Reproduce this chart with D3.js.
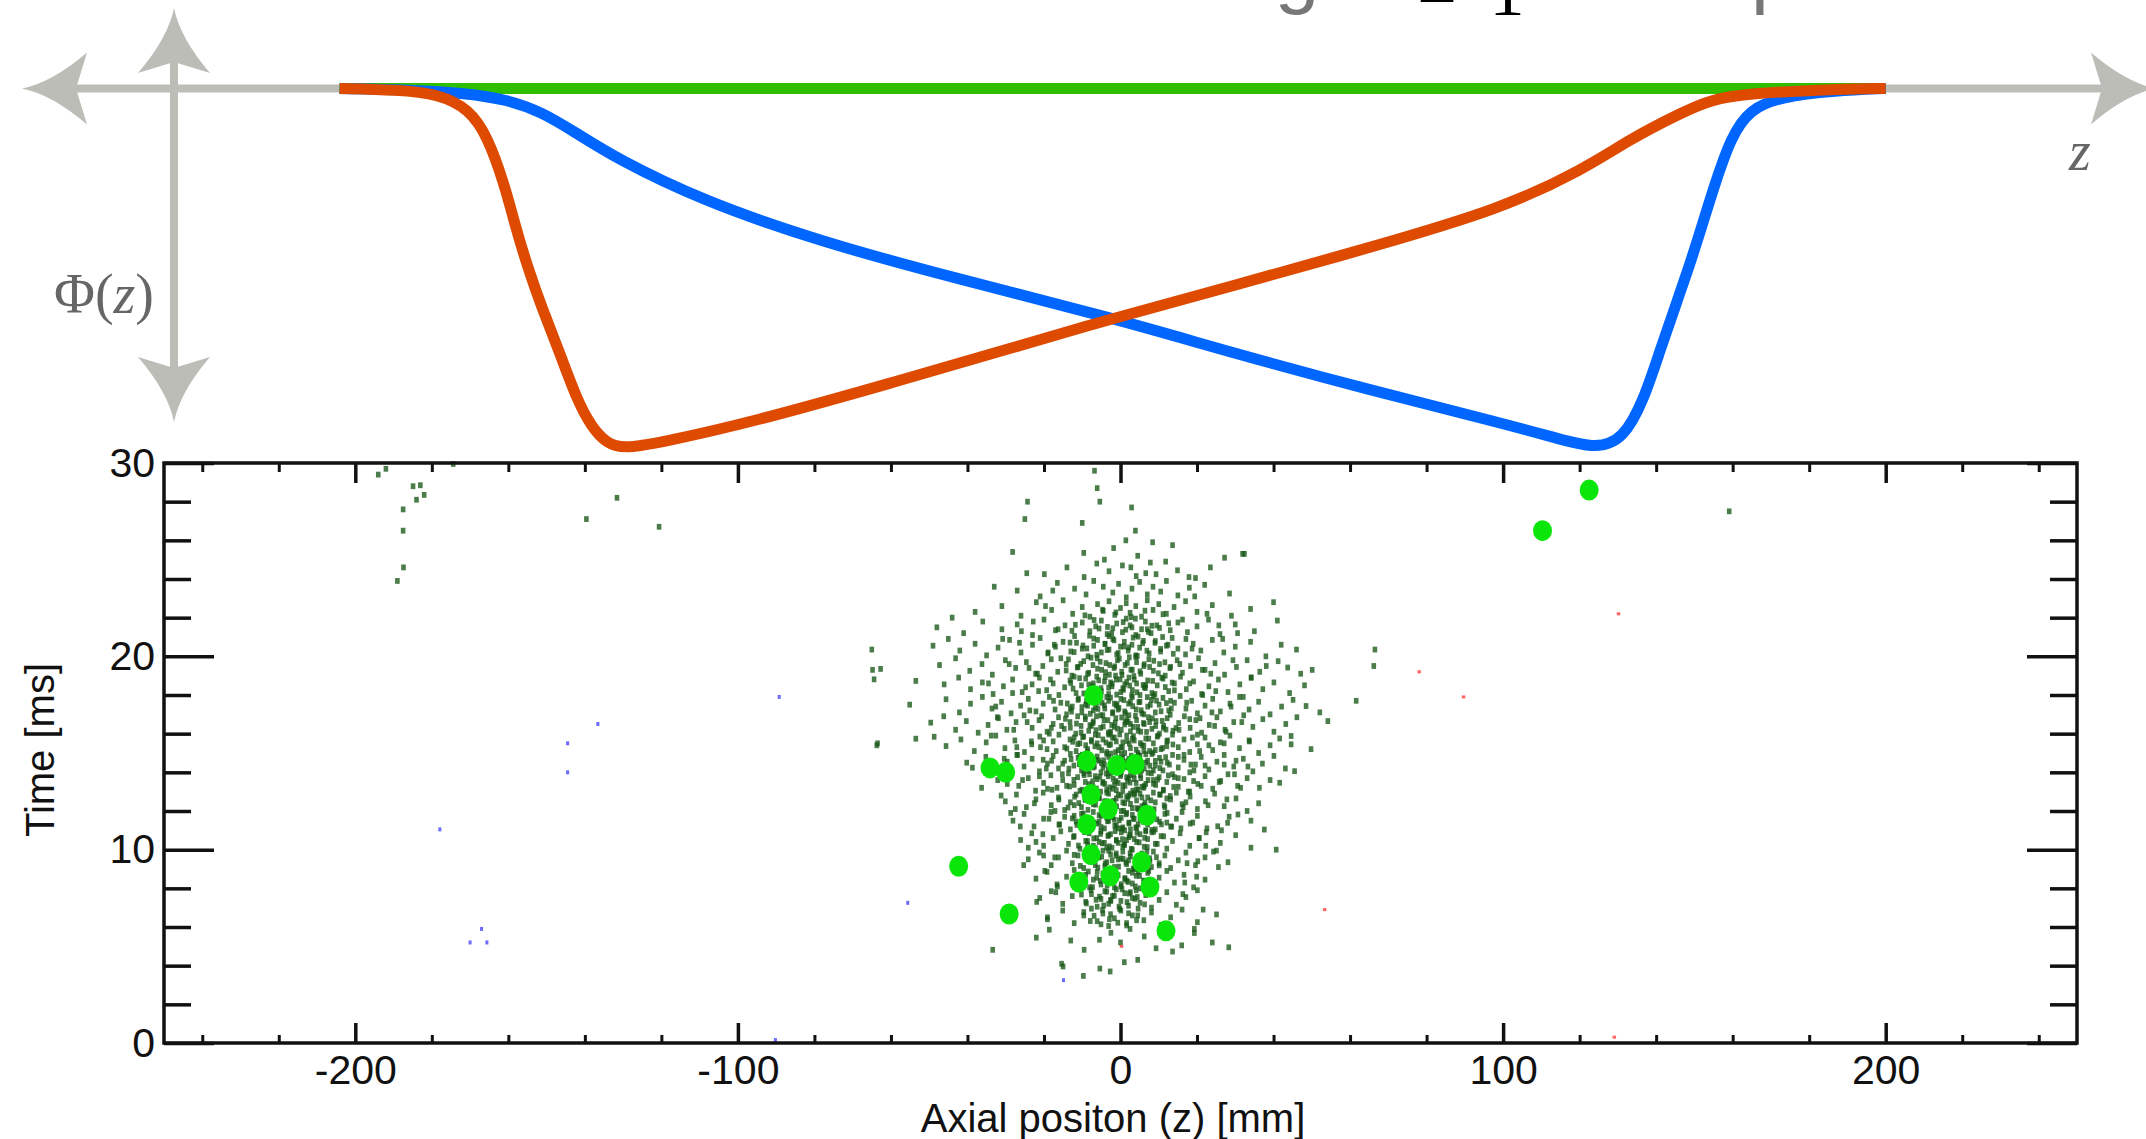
<!DOCTYPE html>
<html><head><meta charset="utf-8">
<script src="https://cdn.jsdelivr.net/npm/d3@7"></script>
<style>body{margin:0;background:#fff;overflow:hidden}svg{display:block}</style>
</head><body>
<script>
// ---------- DATA ----------
// Potential curves Phi(z) (normalised, 0 = axis, -1 = deepest)
const greenZ   = [-204.1, 200];
const greenPhi = [0, 0];
const redZ   = [-204.1,-189.0,-178.3,-170.2,-165.4,-160.9,-158.2,-155.0,-151.1,-146.8,-142.1,-138.2,-134.3,-130.0,-121.0,-96.0,-60.2,-24.3,-1.1,29.4,65.2,99.5,121.0,133.2,145.7,152.9,160.0,174.7,186.9,200];
const redPhi = [0,-0.004,-0.015,-0.058,-0.135,-0.273,-0.385,-0.5,-0.619,-0.735,-0.873,-0.95,-0.995,-1.01,-0.995,-0.935,-0.827,-0.715,-0.642,-0.554,-0.446,-0.338,-0.227,-0.142,-0.073,-0.038,-0.019,-0.008,-0.002,0];
const blueZ   = [-204.1,-185.5,-171.1,-160.4,-151.4,-142.5,-131.8,-109.9,-78.1,-42.2,-1.1,29.4,65.2,99.5,115.3,124.2,131.4,136.8,141.0,144.9,148.6,152.0,155.2,159.6,164.5,172.6,186.9,200];
const bluePhi = [0,-0.004,-0.013,-0.031,-0.065,-0.123,-0.196,-0.312,-0.431,-0.535,-0.646,-0.742,-0.846,-0.938,-0.985,-1.01,-0.985,-0.873,-0.735,-0.615,-0.5,-0.385,-0.273,-0.135,-0.058,-0.023,-0.006,0];

// Scatter: [z (mm), time (ms)]
const bigHits = [[-7.0,17.98],[-34.1,14.23],[-30.0,14.0],[-8.8,14.58],[-1.0,14.35],[3.8,14.4],[-7.7,12.85],[-3.2,12.1],[6.9,11.78],[-8.8,11.3],[-7.7,9.74],[5.5,9.36],[-10.9,8.33],[-2.7,8.65],[7.7,8.07],[-42.3,9.14],[-29.1,6.67],[11.9,5.8],[110.3,26.5],[122.5,28.6]];
const blueHits = [[-89.2,17.9],[-136.6,16.5],[-144.5,15.5],[-144.5,14.0],[-177.9,11.05],[-55.6,7.25],[-167,5.9],[-170,5.2],[-165.6,5.2],[-14.9,3.25],[-90.2,0.15]];
const redHits = [[130.1,22.2],[78,19.2],[89.6,17.9],[53.3,6.9],[0.2,5.0],[129,0.3]];
const strayHits = [[-194,29.4],[-192,29.7],[-184.9,28.8],[-183,28.85],[-182,28.35],[-184,28.1],[-187.5,27.6],[-187.5,26.5],[-174.4,29.95],[-187.4,24.6],[-189,23.9],[-139.6,27.1],[-131.6,28.2],[-120.6,26.7],[159.1,27.5],[-6.8,29.6],[-6.1,28.7],[-5.4,28.0],[2.9,27.7],[3.9,26.5],[-24.3,28.0],[-25,27.1],[-10,26.9],[31.9,25.3]];
const clusterHits = [
[-28.2,25.4],[-4.2,25.0],[4.5,25.2],[13.6,25.75],[27.2,25.1],[32.4,25.3],[-1.8,25.6],[1.4,26.0],[-9.6,25.35],[8.4,25.9],
[-19.9,24.25],[-14.0,24.6],[-9.5,24.1],[-6.2,24.8],[-3.0,24.4],[0.5,24.7],[2.7,24.6],[4.1,24.15],[6.6,24.3],[9.3,24.25],[11.8,24.9],[14.9,24.45],[19.6,24.05],[23.5,24.6],[-24.5,24.3],[7.8,24.85],
[-27,23.4],[-21,23.1],[-16.5,23.8],[-12,23.5],[-9,23.2],[-7,23.9],[-4.5,23.6],[-2,23.3],[-0.5,23.75],[1.5,23.05],[3,23.5],[5,23.85],[7,23.2],[8.5,23.6],[10.5,23.35],[12,23.9],[15,23.15],[18,23.55],[22,23.7],[28.5,23.25],[-33,23.6],
[-38,22.3],[-31,22.6],[-26,22.1],[-22,22.8],[-18,22.4],[-15,22.9],[-12.5,22.2],[-10,22.55],[-8,22.05],[-6,22.7],[-4.5,22.35],[-3,22.85],[-1.5,22.15],[0,22.5],[1.5,22.75],[2.5,22.25],[4,22.6],[5.5,22.05],[7,22.9],[8.5,22.4],[10,22.7],[12,22.2],[14,22.55],[17,22.85],[20,22.3],[24,22.65],[29,22.1],[34,22.45],[-44,22.0],[40,22.8],
[-48,21.5],[-41,21.2],[-36,21.8],[-31,21.4],[-27,21.65],[-23,21.1],[-20,21.9],[-17,21.35],[-14.5,21.6],[-12,21.05],[-10,21.75],[-8,21.3],[-6.5,21.55],[-5,21.85],[-3.5,21.15],[-2,21.45],[-1,21.7],[0.5,21.25],[1.5,21.95],[3,21.5],[4,21.1],[5.5,21.4],[6.5,21.8],[8,21.2],[9.5,21.6],[11,21.0],[13,21.35],[15,21.75],[17.5,21.25],[20,21.55],[23,21.9],[26,21.15],[30,21.65],[35,21.3],[41,21.85],[-3,21.05],[2.5,21.6],[7,21.4],
[-65,20.35],[-49,20.55],[-45,20.9],[-42,20.3],[-38,20.65],[-35,20.05],[-32,20.45],[-29,20.85],[-26,20.2],[-23,20.6],[-21,20.95],[-19,20.15],[-17,20.5],[-15,20.75],[-13,20.25],[-11.5,20.7],[-10,20.4],[-8.5,20.0],[-7,20.55],[-6,20.85],[-5,20.2],[-4,20.65],[-3,20.35],[-2,20.9],[-1,20.1],[0,20.5],[1,20.75],[2,20.3],[3,20.6],[4,20.05],[5,20.45],[6,20.8],[7.5,20.15],[9,20.7],[10.5,20.25],[12,20.55],[13.5,20.95],[15,20.4],[17,20.1],[19,20.65],[21,20.3],[24,20.85],[27,20.2],[30,20.5],[34,20.75],[38,20.0],[42,20.6],[46,20.35],[66.5,20.35],
[-64.8,19.3],[-62.7,19.35],[-47.3,19.55],[-43.1,19.9],[-39.4,19.25],[-36.2,19.6],[-33.5,19.05],[-30.1,19.8],[-27.4,19.4],[-24.6,19.7],[-22.2,19.1],[-20.3,19.5],[-18.1,19.85],[-16.4,19.2],[-14.2,19.6],[-12.7,19.0],[-11.1,19.45],[-9.6,19.75],[-8.3,19.15],[-7.2,19.55],[-6.1,19.9],[-4.9,19.3],[-3.8,19.65],[-2.9,19.05],[-1.7,19.4],[-0.8,19.8],[0.3,19.2],[1.2,19.55],[2.3,19.95],[3.1,19.3],[4.2,19.7],[5.3,19.1],[6.1,19.5],[7.4,19.85],[8.6,19.25],[10.2,19.6],[11.7,19.0],[13.1,19.45],[14.8,19.8],[16.2,19.15],[18.3,19.5],[20.4,19.9],[22.1,19.3],[24.7,19.65],[27.2,19.05],[30.3,19.45],[33.1,19.8],[36.4,19.2],[38.1,19.5],[41.2,19.75],[43.7,19.42],[47.1,19.1],[50.1,19.3],[66.2,19.5],[-1.3,19.0],
[-64.4,18.81],[-53.5,18.73],[-46.1,18.55],[-42.3,18.9],[-39.2,18.3],[-36.1,18.65],[-33.3,18.05],[-30.6,18.45],[-28.2,18.8],[-25.7,18.15],[-23.1,18.55],[-21.2,18.9],[-19.3,18.25],[-17.6,18.6],[-16.1,18.0],[-14.6,18.4],[-13.2,18.75],[-11.6,18.1],[-10.2,18.5],[-9.1,18.85],[-8.2,18.2],[-7.1,18.6],[-6.2,18.95],[-5.1,18.35],[-4.2,18.7],[-3.1,18.05],[-2.2,18.45],[-1.1,18.8],[0.1,18.15],[1.1,18.55],[2.2,18.9],[3.1,18.25],[4.2,18.6],[5.1,18.0],[6.2,18.4],[7.1,18.75],[8.2,18.1],[9.6,18.5],[11.1,18.85],[12.6,18.2],[14.1,18.6],[15.7,18.95],[17.2,18.3],[19.1,18.7],[21.2,18.05],[23.1,18.45],[25.6,18.8],[28.1,18.15],[31.2,18.55],[34.1,18.9],[37.2,18.3],[40.1,18.65],[44.2,18.1],[48.1,18.5],[61.6,17.7],[-2.6,18.65],[0.6,18.35],[3.6,18.8],[-5.6,18.1],[6.6,18.5],[-12.1,18.95],
[-55.1,17.5],[-45.6,17.78],[-42.1,17.1],[-39.2,17.55],[-36.1,17.9],[-33.6,17.3],[-31.1,17.65],[-28.6,17.05],[-26.1,17.45],[-24.1,17.8],[-22.1,17.15],[-20.2,17.55],[-18.6,17.9],[-17.1,17.25],[-15.6,17.6],[-14.1,17.0],[-12.6,17.4],[-11.1,17.75],[-10.1,17.1],[-9.1,17.5],[-8.1,17.85],[-7.1,17.2],[-6.1,17.6],[-5.1,17.95],[-4.1,17.3],[-3.1,17.7],[-2.1,17.05],[-1.1,17.45],[0.1,17.8],[1.1,17.15],[2.1,17.55],[3.1,17.9],[4.1,17.25],[5.1,17.65],[6.1,17.0],[7.1,17.4],[8.1,17.75],[9.1,17.1],[10.1,17.5],[11.1,17.85],[12.6,17.2],[14.1,17.6],[15.6,17.95],[17.1,17.3],[18.6,17.7],[20.1,17.05],[22.1,17.45],[24.1,17.8],[26.1,17.15],[28.6,17.55],[31.1,17.9],[33.6,17.25],[36.1,17.65],[39.1,17.0],[42.1,17.4],[45.1,17.75],[48.5,17.43],[52.1,17.1],[-6.6,17.35],[-3.6,17.9],[-0.6,17.25],[2.6,17.65],[5.6,17.05],[-8.6,17.45],[8.6,17.95],[-13.1,17.3],[13.1,17.7],[-1.6,17.55],
[-49.6,16.57],[-46.2,16.9],[-43.1,16.2],[-40.3,16.65],[-37.2,16.05],[-34.6,16.45],[-32.2,16.85],[-29.7,16.2],[-27.3,16.6],[-25.2,16.95],[-23.1,16.3],[-21.3,16.7],[-19.2,16.1],[-17.6,16.5],[-16.2,16.85],[-14.7,16.25],[-13.2,16.6],[-11.7,16.0],[-10.3,16.4],[-9.2,16.75],[-8.3,16.15],[-7.2,16.55],[-6.3,16.9],[-5.2,16.3],[-4.3,16.7],[-3.2,16.05],[-2.3,16.45],[-1.2,16.8],[0.2,16.2],[1.3,16.6],[2.2,16.95],[3.3,16.35],[4.2,16.7],[5.3,16.1],[6.2,16.5],[7.3,16.85],[8.2,16.25],[9.3,16.65],[10.2,16.0],[11.3,16.4],[12.2,16.8],[13.7,16.15],[15.2,16.55],[16.7,16.9],[18.2,16.3],[19.7,16.7],[21.2,16.05],[23.2,16.45],[25.2,16.85],[27.3,16.2],[29.6,16.6],[32.2,16.95],[34.6,16.35],[37.2,16.75],[40.1,16.1],[43.2,16.5],[46.1,16.85],[54.2,16.65],[-7.6,16.4],[-4.6,16.95],[-1.6,16.35],[1.6,16.75],[4.6,16.15],[7.6,16.6],[-11.2,16.9],[11.2,16.3],[-2.6,16.1],[2.6,16.5],[-18.1,16.3],[18.1,16.75],
[-63.5,15.5],[-63.7,15.4],[-53.5,15.74],[-48.7,15.84],[-45.6,15.36],[-41.7,15.7],[-38.2,15.1],[-35.1,15.55],[-32.6,15.9],[-30.2,15.25],[-27.6,15.65],[-25.1,15.05],[-23.2,15.45],[-21.1,15.85],[-19.2,15.2],[-17.6,15.6],[-16.1,15.95],[-14.6,15.3],[-13.2,15.7],[-11.6,15.1],[-10.6,15.5],[-9.6,15.85],[-8.6,15.2],[-7.6,15.6],[-6.6,15.95],[-5.6,15.3],[-4.6,15.7],[-3.6,15.05],[-2.6,15.45],[-1.6,15.8],[-0.6,15.15],[0.6,15.55],[1.6,15.9],[2.6,15.25],[3.6,15.65],[4.6,15.0],[5.6,15.4],[6.6,15.75],[7.6,15.1],[8.6,15.5],[9.6,15.85],[10.6,15.2],[12.1,15.6],[13.6,15.95],[15.1,15.3],[16.6,15.7],[18.1,15.05],[20.1,15.45],[22.1,15.8],[24.1,15.15],[26.1,15.55],[28.6,15.9],[31.1,15.25],[33.6,15.65],[36.1,15.0],[39.1,15.4],[41.6,15.75],[44.6,15.88],[44.6,15.45],[49.8,15.2],[-3.1,15.95],[0.1,15.3],[3.1,15.75],[6.1,15.1],[-6.1,15.5],[-9.1,15.4],[9.1,15.15],[-12.1,15.8],[12.1,15.35],[-1.1,15.6],[1.1,15.0],[-20.1,15.65],[20.1,15.95],[-27.1,15.3],[27.1,15.5],
[-40.2,14.5],[-38.7,14.24],[-35.2,14.8],[-32.1,14.1],[-29.6,14.55],[-27.1,14.9],[-25.2,14.3],[-23.1,14.7],[-21.2,14.05],[-19.1,14.45],[-17.6,14.85],[-16.2,14.2],[-14.6,14.6],[-13.1,14.95],[-12.2,14.35],[-11.1,14.75],[-10.2,14.1],[-9.1,14.5],[-8.2,14.9],[-7.1,14.25],[-6.2,14.65],[-5.1,14.0],[-4.2,14.4],[-3.1,14.8],[-2.2,14.15],[-1.1,14.55],[0.2,14.95],[1.1,14.3],[2.2,14.7],[3.1,14.05],[4.2,14.45],[5.1,14.85],[6.2,14.2],[7.1,14.6],[8.2,14.95],[9.1,14.35],[10.2,14.75],[11.1,14.1],[12.2,14.5],[13.6,14.9],[15.1,14.25],[16.6,14.65],[18.1,14.0],[19.6,14.4],[21.1,14.8],[23.1,14.15],[25.2,14.55],[27.1,14.9],[29.6,14.3],[32.1,14.7],[34.6,14.05],[37.1,14.45],[40.1,14.85],[43.1,14.2],[45.5,14.06],[-5.6,14.6],[-2.6,14.3],[0.6,14.75],[3.6,14.15],[6.6,14.5],[-8.6,14.7],[8.6,14.1],[-15.1,14.45],[15.1,14.8],[-1.6,14.05],[1.6,14.4],[4.6,14.9],[-4.6,14.25],[10.6,14.55],[-10.6,14.85],[-20.2,14.65],[22.1,14.35],[2.1,14.6],[-0.6,14.2],[-3.6,14.95],
[-36.3,13.2],[-32.1,13.6],[-29.2,13.95],[-26.6,13.3],[-24.1,13.7],[-22.2,13.05],[-20.1,13.45],[-18.2,13.85],[-16.6,13.2],[-15.1,13.6],[-13.6,13.95],[-12.1,13.35],[-11.2,13.75],[-10.1,13.1],[-9.2,13.5],[-8.1,13.9],[-7.2,13.25],[-6.1,13.65],[-5.2,13.0],[-4.1,13.4],[-3.2,13.8],[-2.1,13.15],[-1.2,13.55],[0.1,13.9],[1.2,13.3],[2.1,13.7],[3.2,13.05],[4.1,13.45],[5.2,13.85],[6.1,13.2],[7.2,13.6],[8.1,13.95],[9.2,13.35],[10.1,13.75],[11.2,13.1],[12.1,13.5],[13.6,13.9],[15.1,13.25],[16.6,13.65],[18.1,13.0],[20.2,13.4],[22.1,13.8],[24.1,13.15],[26.2,13.55],[28.1,13.9],[30.6,13.3],[33.1,13.7],[36.3,13.2],[39.1,13.6],[41.6,13.46],[-6.6,13.8],[-3.6,13.1],[-0.6,13.45],[2.6,13.85],[5.6,13.25],[8.6,13.6],[-9.6,13.95],[-1.6,13.35],[1.6,13.75],[4.6,13.1],[-4.6,13.5],[0.6,13.05],[3.6,13.65],[-2.6,13.95],[6.6,13.4],[-14.1,13.3],[14.1,13.75],[-19.1,13.15],[19.1,13.55],[-7.6,13.05],
[-30.1,12.5],[-27.2,12.85],[-24.6,12.2],[-22.1,12.6],[-20.2,12.95],[-18.1,12.3],[-16.2,12.7],[-14.6,12.05],[-13.1,12.45],[-11.6,12.85],[-10.2,12.2],[-9.1,12.6],[-8.2,12.95],[-7.1,12.35],[-6.2,12.75],[-5.1,12.1],[-4.2,12.5],[-3.1,12.9],[-2.2,12.25],[-1.1,12.65],[0.2,12.0],[1.1,12.4],[2.2,12.8],[3.1,12.15],[4.2,12.55],[5.1,12.9],[6.2,12.3],[7.1,12.7],[8.2,12.05],[9.1,12.45],[10.2,12.85],[11.6,12.2],[13.1,12.6],[14.6,12.95],[16.1,12.35],[18.2,12.75],[20.1,12.1],[22.2,12.5],[24.6,12.9],[27.1,12.25],[30.2,12.65],[33.1,12.0],[36.1,12.4],[-5.6,12.7],[-2.6,12.05],[0.6,12.45],[3.6,12.85],[6.6,12.2],[-8.6,12.6],[8.6,12.95],[-1.6,12.35],[1.6,12.75],[4.6,12.1],[-3.6,12.5],[2.6,12.9],[-12.1,12.3],[12.1,12.65],[-17.1,12.0],[17.1,12.45],[-0.6,12.85],[5.6,12.25],[-6.6,12.6],
[-28.1,11.5],[-25.2,11.85],[-22.6,11.2],[-20.1,11.6],[-18.2,11.95],[-16.1,11.3],[-14.6,11.7],[-13.1,11.05],[-11.6,11.45],[-10.2,11.85],[-9.1,11.2],[-8.2,11.6],[-7.1,11.95],[-6.2,11.35],[-5.1,11.75],[-4.2,11.1],[-3.1,11.5],[-2.2,11.9],[-1.1,11.25],[0.2,11.65],[1.1,11.0],[2.2,11.4],[3.1,11.8],[4.2,11.15],[5.1,11.55],[6.2,11.9],[7.1,11.3],[8.2,11.7],[9.1,11.05],[10.2,11.45],[11.6,11.85],[13.1,11.2],[14.6,11.6],[16.1,11.95],[18.2,11.35],[20.1,11.75],[22.6,11.1],[25.4,11.21],[28.0,11.39],[30.7,11.82],[34.1,11.5],[37.6,11.04],[-5.6,11.45],[-2.6,11.8],[0.6,11.15],[3.6,11.6],[6.6,11.0],[-7.6,11.4],[7.6,11.85],[-1.6,11.55],[1.6,11.9],[4.6,11.3],[-3.6,11.65],[2.6,11.05],[-12.1,11.75],[12.1,11.4],[-0.6,11.1],[5.6,11.7],
[-26.1,10.5],[-23.2,10.85],[-20.1,10.2],[-17.6,10.6],[-15.6,10.95],[-13.6,10.3],[-12.1,10.7],[-10.6,10.05],[-9.1,10.45],[-8.2,10.85],[-7.1,10.2],[-6.2,10.6],[-5.1,10.95],[-4.2,10.35],[-3.1,10.75],[-2.2,10.1],[-1.1,10.5],[0.2,10.9],[1.1,10.25],[2.2,10.65],[3.1,10.0],[4.2,10.4],[5.1,10.8],[6.2,10.15],[7.1,10.55],[8.2,10.9],[9.1,10.3],[10.6,10.7],[12.1,10.05],[13.6,10.45],[15.6,10.85],[18.1,10.2],[20.6,10.6],[22.4,10.9],[26.1,10.35],[30.1,10.75],[34.1,10.1],[40.7,10.0],[-5.6,10.4],[-2.6,10.8],[0.6,10.15],[3.6,10.55],[6.6,10.95],[-0.6,10.35],[2.6,10.75],[-3.6,10.1],[1.6,10.5],[-8.6,10.25],
[-24.1,9.5],[-21.2,9.85],[-18.1,9.2],[-16.2,9.6],[-14.1,9.95],[-12.6,9.3],[-11.1,9.7],[-9.6,9.05],[-8.6,9.45],[-7.6,9.85],[-6.6,9.2],[-5.6,9.6],[-4.6,9.95],[-3.6,9.35],[-2.6,9.75],[-1.6,9.1],[-0.6,9.5],[0.6,9.9],[1.6,9.25],[2.6,9.65],[3.6,9.0],[4.6,9.4],[5.6,9.8],[6.6,9.15],[7.6,9.55],[8.6,9.9],[10.1,9.3],[11.6,9.7],[13.1,9.05],[15.1,9.45],[17.1,9.85],[19.6,9.2],[22.1,9.6],[25.1,9.95],[28.1,9.35],[-4.1,9.15],[-1.1,9.8],[2.1,9.45],[5.1,9.05],[-7.1,9.4],[8.1,9.1],[0.1,9.55],
[-22.1,8.5],[-19.2,8.85],[-16.6,8.2],[-14.1,8.6],[-12.1,8.95],[-10.6,8.3],[-9.1,8.7],[-8.1,8.05],[-7.1,8.45],[-6.1,8.85],[-5.1,8.2],[-4.1,8.6],[-3.1,8.95],[-2.1,8.35],[-1.1,8.75],[0.1,8.1],[1.1,8.5],[2.1,8.9],[3.1,8.25],[4.1,8.65],[5.1,8.0],[6.1,8.4],[7.1,8.8],[8.6,8.15],[10.1,8.55],[12.1,8.9],[14.1,8.3],[16.6,8.7],[19.1,8.05],[22.1,8.45],[-4.6,8.75],[-1.6,8.05],[1.6,8.4],[4.6,8.85],
[-21.1,7.5],[-18.1,7.85],[-15.1,7.2],[-12.6,7.6],[-10.6,7.95],[-9.1,7.3],[-7.6,7.7],[-6.1,7.05],[-5.1,7.45],[-4.1,7.85],[-3.1,7.2],[-2.1,7.6],[-1.1,7.95],[0.1,7.35],[1.1,7.75],[2.1,7.1],[3.1,7.5],[4.1,7.9],[5.1,7.25],[6.6,7.65],[8.1,7.0],[10.1,7.4],[12.1,7.8],[14.6,7.15],[17.1,7.55],[20.1,7.9],[-2.6,7.4],[2.6,7.8],
[-19.1,6.5],[-15.1,6.85],[-12.1,6.2],[-9.6,6.6],[-7.6,6.95],[-6.1,6.3],[-4.6,6.7],[-3.1,6.05],[-1.6,6.45],[0.1,6.85],[1.6,6.2],[3.1,6.6],[4.6,6.95],[6.1,6.35],[8.1,6.75],[10.6,6.1],[13.1,6.5],[16.1,6.9],[20.1,6.25],[25.1,6.65],
[-18.6,5.86],[-13,5.3],[-9.5,4.82],[-5.5,5.34],[-2.5,5.7],[0,5.2],[2.5,5.9],[6.2,5.51],[9.3,4.9],[13.6,4.73],[19.3,5.69],[24,5.2],[28.3,4.95],[-33.4,4.82],[-22,5.45],[16,5.05],
[-15,3.96],[-9.7,3.47],[-2.7,3.7],[1.0,4.18],[-15.4,4.1],[-5.4,3.85],[4.5,4.3]
];
// extra hits in the dense core column
const coreHits = [
[-9.3,22.12],[-4.7,22.41],[-1.2,22.27],[2.8,22.03],[6.4,22.36],[11.1,22.18],
[-11.8,21.63],[-6.9,21.88],[-3.4,21.52],[0.7,21.77],[3.9,21.95],[8.2,21.58],[12.6,21.71],
[-12.7,21.32],[-8.1,21.07],[-5.6,21.44],[-2.3,21.19],[1.4,21.38],[4.6,21.02],[7.3,21.26],[10.2,21.47],
[-13.2,20.71],[-9.8,20.56],[-7.0,20.92],[-4.1,20.64],[-1.7,20.83],[0.9,20.51],[3.3,20.97],[5.8,20.68],[9.1,20.79],[12.4,20.6],
[-12.1,20.22],[-8.8,20.41],[-6.2,20.08],[-3.5,20.33],[-0.6,20.17],[2.1,20.46],[4.4,20.02],[6.9,20.29],[10.5,20.38],[13.8,20.13],
[-13.6,19.84],[-10.4,19.61],[-7.7,19.93],[-5.3,19.72],[-2.8,19.55],[-0.3,19.88],[1.8,19.66],[4.0,19.97],[6.2,19.59],[8.7,19.77],[11.6,19.69],
[-14.2,19.27],[-11.3,19.43],[-8.6,19.09],[-6.0,19.36],[-3.9,19.18],[-1.5,19.48],[0.4,19.04],[2.7,19.31],[5.1,19.22],[7.6,19.45],[9.9,19.12],[12.9,19.39],
[-13.0,18.62],[-10.7,18.87],[-8.3,18.54],[-5.7,18.76],[-4.0,18.93],[-2.2,18.58],[-0.1,18.81],[1.6,18.67],[3.5,18.98],[5.9,18.52],[8.4,18.73],[10.8,18.9],[13.5,18.64],
[-12.4,18.33],[-9.6,18.08],[-7.4,18.45],[-5.0,18.19],[-3.1,18.38],[-1.0,18.02],[0.8,18.27],[2.4,18.49],[4.3,18.14],[6.5,18.36],[9.0,18.05],[11.7,18.41],[14.1,18.24],
[-13.9,17.56],[-11.0,17.81],[-8.9,17.69],[-6.6,17.94],[-4.8,17.6],[-2.6,17.86],[-0.9,17.53],[0.9,17.74],[2.9,17.98],[4.8,17.63],[7.0,17.89],[9.4,17.71],[12.0,17.58],
[-12.8,17.14],[-10.1,17.37],[-7.9,17.03],[-5.9,17.28],[-4.2,17.46],[-2.0,17.11],[-0.4,17.33],[1.3,17.06],[3.2,17.42],[5.4,17.21],[7.8,17.49],[10.6,17.16],[13.3,17.3],
[-14.4,16.77],[-11.5,16.52],[-9.2,16.88],[-7.1,16.63],[-5.2,16.95],[-3.3,16.7],[-1.4,16.57],[0.3,16.84],[2.0,16.61],[3.9,16.92],[6.0,16.55],[8.3,16.79],[10.9,16.66],[13.0,16.98],
[-13.1,16.31],[-10.3,16.06],[-8.0,16.44],[-6.4,16.18],[-4.5,16.37],[-2.7,16.01],[-0.8,16.26],[1.1,16.48],[2.6,16.12],[4.5,16.35],[6.8,16.09],[9.2,16.4],[11.9,16.21],[14.5,16.29],
[-12.5,15.58],[-9.9,15.83],[-7.6,15.67],[-5.8,15.92],[-3.8,15.54],[-2.1,15.79],[-0.2,15.96],[1.7,15.62],[3.4,15.87],[5.2,15.51],[7.4,15.74],[9.8,15.9],[12.3,15.65],
[-14.0,15.23],[-11.2,15.46],[-8.7,15.08],[-6.7,15.35],[-4.9,15.14],[-3.0,15.41],[-1.3,15.04],[0.5,15.28],[2.3,15.49],[4.1,15.17],[6.1,15.38],[8.5,15.02],[11.0,15.26],[13.7,15.44],
[-12.9,14.68],[-10.0,14.91],[-8.1,14.57],[-6.1,14.82],[-4.4,14.62],[-2.5,14.97],[-0.7,14.73],[1.0,14.55],[2.8,14.86],[4.7,14.64],[6.6,14.94],[9.1,14.59],[11.8,14.78],
[-13.5,14.19],[-10.8,14.42],[-8.4,14.07],[-6.8,14.31],[-5.0,14.48],[-3.2,14.13],[-1.6,14.36],[0.2,14.03],[1.9,14.27],[3.6,14.45],[5.5,14.1],[7.7,14.34],[10.3,14.22],[12.8,14.4],
[-12.2,13.61],[-9.5,13.86],[-7.3,13.53],[-5.4,13.77],[-3.7,13.94],[-1.9,13.66],[0.0,13.81],[1.8,13.57],[3.5,13.89],[5.3,13.7],[7.2,13.98],[9.7,13.63],[12.5,13.84],
[-13.3,13.27],[-10.6,13.04],[-8.2,13.39],[-6.3,13.16],[-4.6,13.45],[-2.8,13.22],[-1.1,13.08],[0.6,13.33],[2.5,13.47],[4.2,13.12],[6.2,13.29],[8.6,13.41],[11.2,13.06],[13.9,13.24],
[-12.0,12.74],[-9.3,12.58],[-7.2,12.89],[-5.5,12.66],[-3.6,12.95],[-1.8,12.52],[0.1,12.8],[1.9,12.63],[3.7,12.92],[5.6,12.7],[7.9,12.55],[10.4,12.85],[13.0,12.77],
[-13.7,12.18],[-10.9,12.41],[-8.5,12.06],[-6.5,12.33],[-4.7,12.12],[-2.9,12.46],[-1.0,12.24],[0.8,12.01],[2.6,12.37],[4.4,12.15],[6.4,12.43],[8.8,12.09],[11.4,12.29],
[-12.6,11.62],[-9.7,11.87],[-7.5,11.55],[-5.6,11.79],[-3.9,11.93],[-2.0,11.68],[-0.3,11.52],[1.5,11.83],[3.3,11.6],[5.1,11.96],[7.1,11.71],[9.5,11.57],[12.2,11.9],
[-11.4,11.28],[-8.9,11.05],[-6.9,11.4],[-5.1,11.17],[-3.4,11.47],[-1.5,11.23],[0.4,11.09],[2.2,11.36],[4.0,11.14],[6.0,11.44],[8.2,11.02],[10.7,11.31],[13.4,11.19],
[-12.3,10.66],[-9.4,10.91],[-7.0,10.58],[-5.2,10.82],[-3.3,10.71],[-1.4,10.96],[0.5,10.54],[2.4,10.77],[4.3,10.88],[6.3,10.61],[8.7,10.93],[11.3,10.69],
[-11.0,10.21],[-8.6,10.44],[-6.6,10.08],[-4.8,10.33],[-2.9,10.17],[-1.1,10.47],[0.9,10.26],[2.8,10.04],[4.9,10.38],[7.0,10.13],[9.6,10.3],
[-12.1,9.73],[-9.1,9.58],[-6.8,9.86],[-4.9,9.64],[-3.1,9.95],[-1.2,9.7],[0.7,9.52],[2.5,9.81],[4.6,9.66],[6.9,9.9],[9.4,9.61],
[-10.5,9.16],[-8.0,9.39],[-5.9,9.07],[-4.0,9.28],[-2.2,9.45],[-0.5,9.12],[1.4,9.34],[3.3,9.02],[5.3,9.25],[7.7,9.42],[10.1,9.19],
[-11.3,8.62],[-8.4,8.87],[-6.2,8.55],[-4.3,8.78],[-2.4,8.93],[-0.6,8.68],[1.2,8.52],[3.1,8.81],[5.0,8.64],[7.4,8.9],
[-9.8,8.27],[-7.3,8.06],[-5.3,8.39],[-3.5,8.15],[-1.7,8.44],[0.2,8.21],[2.0,8.33],[3.9,8.1],[6.1,8.36],
[-10.2,7.68],[-7.7,7.91],[-5.5,7.57],[-3.6,7.83],[-1.6,7.62],[0.4,7.95],[2.3,7.73],[4.4,7.55],[6.8,7.86],
[-8.9,7.22],[-6.4,7.41],[-4.4,7.11],[-2.5,7.35],[-0.4,7.05],[1.7,7.29],[3.8,7.46],[6.3,7.17],
[-9.6,6.77],[-6.9,6.58],[-4.7,6.88],[-2.6,6.66],[-0.2,6.93],[2.1,6.71],[4.5,6.6],
[-7.9,6.31],[-5.1,6.14],[-2.9,6.4],[-0.7,6.22],[1.6,6.08],[4.2,6.35]
];
// extra hits in the flanks of the cluster
const flankHits = [
[-16.3,21.4],[-18.9,20.2],[-21.7,19.1],[-24.8,18.4],[-17.5,17.7],[-20.6,16.9],[-27.9,16.2],[-23.3,15.6],[-16.8,15.1],[-30.4,14.7],[-19.4,14.2],[-25.6,13.6],[-17.9,13.1],[-22.5,12.4],[-28.7,11.9],[-15.9,11.3],[-20.3,10.8],[-24.1,10.1],[-17.2,9.6],[-19.8,8.9],[-16.5,8.1],[-21.9,7.3],[-32.6,17.4],[-29.1,19.6],[-26.4,20.7],[-22.8,21.8],[-19.6,22.6],[-33.8,15.9],[-31.2,12.8],[-26.9,14.9],[-23.7,17.2],[-18.3,18.8],[-15.6,19.9],[-16.1,12.6],[-18.7,11.6],[-21.2,13.8],[-25.3,9.2],[-27.5,12.1],[-34.5,18.6],[-30.8,20.9],[-17.7,23.4],[-20.9,15.3],[-24.4,16.6],[-28.2,18.1],[-15.4,16.4],[-18.0,14.6],[-22.1,10.4],[-16.9,7.8],[-19.1,6.4],[-23.9,19.4],[-31.9,16.8],[-26.2,11.2],[-29.6,13.4],[-17.3,20.6],[-20.1,9.7],[-15.2,13.9],[-33.1,14.1],[-21.4,18.2],[-18.6,16.0],[-25.9,21.3],
[16.2,21.9],[18.7,20.4],[21.4,19.3],[24.9,18.2],[17.3,17.6],[20.8,16.8],[27.6,16.1],[23.1,15.4],[16.6,14.9],[30.2,14.6],[19.2,14.1],[25.8,13.5],[17.7,13.0],[22.9,12.3],[28.4,11.7],[15.8,11.1],[20.5,10.6],[24.3,9.9],[17.4,9.3],[19.9,8.6],[16.3,7.7],[21.6,6.9],[32.1,17.9],[29.4,19.8],[26.7,20.9],[22.6,22.2],[19.4,23.1],[33.7,15.6],[31.4,13.2],[27.1,14.4],[23.9,17.1],[18.1,18.6],[15.5,19.6],[16.4,12.2],[18.9,11.4],[21.1,13.3],[25.6,9.1],[27.8,12.6],[34.2,18.9],[30.6,21.2],[17.9,24.1],[20.7,15.1],[24.6,16.4],[28.9,17.4],[15.3,16.2],[18.4,14.4],[22.3,10.2],[16.8,8.3],[19.3,5.9],[23.6,19.1],[31.7,16.6],[26.4,11.0],[29.8,13.9],[17.1,20.9],[20.2,9.4],[15.1,13.7],[33.3,14.3],[21.5,18.0],[18.8,15.8],[25.7,21.6]
];

const zMajorTicks = [-200,-100,0,100,200];
const tMajorTicks = [0,10,20,30];

// ---------- LAYOUT ----------
const W = 2146, H = 1139;
const svg = d3.select("body").append("svg").attr("width", W).attr("height", H);
const x = d3.scaleLinear().domain([-250,250]).range([164,2077]);
const y = d3.scaleLinear().domain([0,30]).range([1043,463]);
const phi = d3.scaleLinear().domain([-1,0]).range([445,88.5]);

// ---------- cropped header fragments ----------
svg.append("text").attr("x",1297).attr("y",-2).attr("text-anchor","middle")
  .attr("font-family","Liberation Sans, Arial, sans-serif").attr("font-size",80).attr("fill","#777").text("g");
svg.append("text").attr("x",1437).attr("y",17).attr("text-anchor","middle")
  .attr("font-family","Liberation Serif, serif").attr("font-size",70).attr("fill","#000").text("=");
svg.append("text").attr("x",1507).attr("y",15).attr("text-anchor","middle")
  .attr("font-family","Liberation Serif, serif").attr("font-size",70).attr("fill","#000").text("1");
svg.append("text").attr("x",1751).attr("y",-2)
  .attr("font-family","Liberation Sans, Arial, sans-serif").attr("font-size",80).attr("fill","#777").text("p");

// ---------- potential diagram ----------
const axisGray = "#bdbdb7";
const diag = svg.append("g");
diag.append("line").attr("x1",60).attr("x2",2110).attr("y1",88.5).attr("y2",88.5)
  .attr("stroke",axisGray).attr("stroke-width",8);
diag.append("line").attr("x1",174).attr("x2",174).attr("y1",40).attr("y2",395)
  .attr("stroke",axisGray).attr("stroke-width",8);
const headPath = "M0,0 Q-30,6 -65,36 L-54,0 L-65,-36 Q-30,-6 0,0Z";
[[22,88.5,180],[2156,88.5,0],[174,8,-90],[174,422,90]].forEach(([hx,hy,a]) => {
  diag.append("path").attr("d",headPath).attr("fill",axisGray)
    .attr("transform",`translate(${hx},${hy}) rotate(${a})`);
});
const pline = d3.line().x(d => x(d[0])).y(d => phi(d[1])).curve(d3.curveBasis);
const zip = (a,b) => a.map((v,i) => [v,b[i]]);
diag.append("path").attr("d", pline(zip(greenZ,greenPhi))).attr("fill","none")
  .attr("stroke","#2fbf00").attr("stroke-width",11);
diag.append("path").attr("d", pline(zip(blueZ,bluePhi))).attr("fill","none")
  .attr("stroke","#0066ff").attr("stroke-width",11).attr("stroke-linejoin","round");
diag.append("path").attr("d", pline(zip(redZ,redPhi))).attr("fill","none")
  .attr("stroke","#dd4a00").attr("stroke-width",11).attr("stroke-linejoin","round");

const phiLabel = diag.append("text").attr("x",104).attr("y",313).attr("text-anchor","middle")
  .attr("font-family","Liberation Serif, serif").attr("font-size",56).attr("fill","#666");
phiLabel.append("tspan").text("Φ(");
phiLabel.append("tspan").attr("font-style","italic").text("z");
phiLabel.append("tspan").text(")");
diag.append("text").attr("x",2080).attr("y",170).attr("text-anchor","middle")
  .attr("font-family","Liberation Serif, serif").attr("font-style","italic")
  .attr("font-size",56).attr("fill","#666").text("z");

// ---------- scatter plot ----------
const plot = svg.append("g");
plot.append("g").selectAll("rect").data(strayHits.concat(clusterHits, flankHits, coreHits)).join("rect")
  .attr("x", d => x(d[0]) - 2.3).attr("y", d => y(d[1]) - 2.9)
  .attr("width",4.6).attr("height",5.8).attr("fill","#185818").attr("opacity",0.78);
plot.append("g").selectAll("rect").data(blueHits).join("rect")
  .attr("x", d => x(d[0]) - 1.5).attr("y", d => y(d[1]) - 2)
  .attr("width",3).attr("height",4).attr("fill","#3a3aff").attr("opacity",0.75);
plot.append("g").selectAll("rect").data(redHits).join("rect")
  .attr("x", d => x(d[0]) - 1.5).attr("y", d => y(d[1]) - 1.5)
  .attr("width",3.5).attr("height",3).attr("fill","#ff3030").attr("opacity",0.75);
plot.append("g").selectAll("ellipse").data(bigHits).join("ellipse")
  .attr("cx", d => x(d[0])).attr("cy", d => y(d[1]))
  .attr("rx",9.5).attr("ry",10.5).attr("fill","#0ae60a");

// axes
const font = "Liberation Sans, Arial, Helvetica, sans-serif";
const zMinor = d3.range(-240,250,20).filter(v => v % 100 !== 0);
const tMinor = d3.range(2,30,2).filter(v => v % 10 !== 0);
function styleAxis(g, sw) {
  g.select(".domain").remove();
  g.attr("color","#111").attr("font-family",font).attr("font-size",41);
  g.selectAll(".tick line").attr("stroke-width",sw);
  g.selectAll(".tick text").attr("fill","#111");
}
plot.append("g").attr("transform","translate(0,1043)")
  .call(d3.axisBottom(x).tickValues(zMajorTicks).tickSize(-20).tickPadding(12).tickFormat(d => String(d)))
  .call(g => styleAxis(g,3.5));
plot.append("g").attr("transform","translate(0,1043)")
  .call(d3.axisBottom(x).tickValues(zMinor).tickSize(-8).tickFormat(""))
  .call(g => styleAxis(g,3));
plot.append("g").attr("transform","translate(0,463)")
  .call(d3.axisTop(x).tickValues(zMajorTicks).tickSize(-20).tickFormat(""))
  .call(g => styleAxis(g,3.5));
plot.append("g").attr("transform","translate(0,463)")
  .call(d3.axisTop(x).tickValues(zMinor).tickSize(-9).tickFormat(""))
  .call(g => styleAxis(g,3));
plot.append("g").attr("transform","translate(164,0)")
  .call(d3.axisLeft(y).tickValues(tMajorTicks).tickSize(-50).tickPadding(9).tickFormat(d => String(d)))
  .call(g => styleAxis(g,3.5));
plot.append("g").attr("transform","translate(164,0)")
  .call(d3.axisLeft(y).tickValues(tMinor).tickSize(-27).tickFormat(""))
  .call(g => styleAxis(g,3.5));
plot.append("g").attr("transform","translate(2077,0)")
  .call(d3.axisRight(y).tickValues(tMajorTicks).tickSize(-50).tickFormat(""))
  .call(g => styleAxis(g,3.5));
plot.append("g").attr("transform","translate(2077,0)")
  .call(d3.axisRight(y).tickValues(tMinor).tickSize(-27).tickFormat(""))
  .call(g => styleAxis(g,3.5));
plot.append("rect").attr("x",164).attr("y",463).attr("width",2077-164).attr("height",1043-463)
  .attr("fill","none").attr("stroke","#111").attr("stroke-width",3.5);

plot.append("text").attr("x",1113).attr("y",1132).attr("text-anchor","middle")
  .attr("font-family",font).attr("font-size",40).attr("fill","#111").text("Axial positon (z) [mm]");
plot.append("text").attr("transform","translate(54,750) rotate(-90)").attr("text-anchor","middle")
  .attr("font-family",font).attr("font-size",40).attr("fill","#111").text("Time [ms]");
</script>
</body></html>
